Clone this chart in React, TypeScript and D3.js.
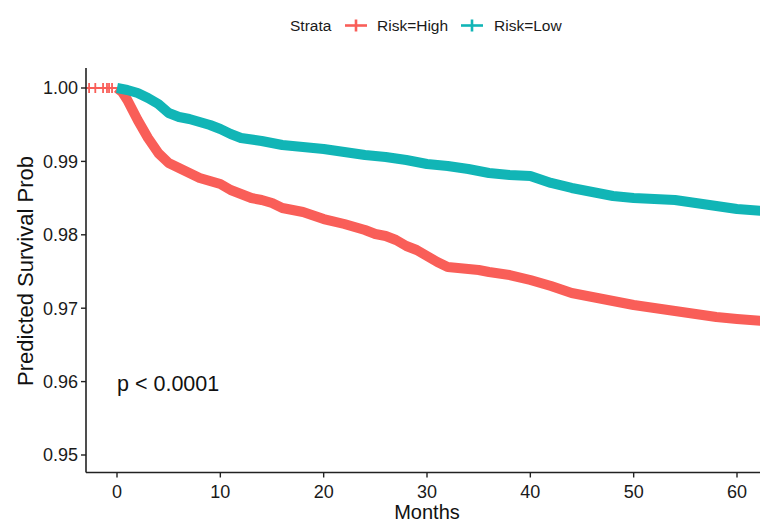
import React from "react";
import * as d3 from "d3";

const highTimes = [0, 0.5, 1, 1.5, 2, 3, 4, 5, 6, 7, 8, 9, 10, 11, 12, 13, 14, 15, 16, 18, 20, 22, 24, 25, 26, 27, 28, 29, 30, 31, 32, 33, 34, 35, 36, 38, 40, 42, 44, 46, 48, 50, 52, 54, 56, 58, 60, 62.5];
const highSurv = [1.0, 0.99946, 0.99837, 0.997, 0.99564, 0.99319, 0.99114, 0.98978, 0.9891, 0.98842, 0.98774, 0.98733, 0.98692, 0.9861, 0.98556, 0.98501, 0.98474, 0.98433, 0.98365, 0.98311, 0.98215, 0.98147, 0.98065, 0.98011, 0.97984, 0.97929, 0.97847, 0.97793, 0.97711, 0.97629, 0.97561, 0.97548, 0.97534, 0.9752, 0.97493, 0.97452, 0.97384, 0.97302, 0.97207, 0.97153, 0.97098, 0.97044, 0.97003, 0.96962, 0.96921, 0.9688, 0.96853, 0.96826];

const lowTimes = [0, 1, 2, 3, 4, 5, 6, 7, 8, 9, 10, 11, 12, 14, 16, 18, 20, 22, 24, 26, 28, 30, 32, 34, 36, 38, 40, 42, 44, 46, 48, 50, 52, 54, 56, 58, 60, 62.5];
const lowSurv = [1.0, 0.99973, 0.99932, 0.99864, 0.99782, 0.99659, 0.99605, 0.99578, 0.99537, 0.99496, 0.99441, 0.99373, 0.99319, 0.99278, 0.99223, 0.99196, 0.99169, 0.99128, 0.99087, 0.9906, 0.99019, 0.98965, 0.98937, 0.98896, 0.98842, 0.98815, 0.98801, 0.98706, 0.98638, 0.98583, 0.98529, 0.98501, 0.98488, 0.98474, 0.98433, 0.98392, 0.98351, 0.98324];

const highEarlyCensor = [-2.7, -2.1, -1.35, -0.97, -0.77, -0.48];

const xTicks = [0, 10, 20, 30, 40, 50, 60];
const yTicks = [0.95, 0.96, 0.97, 0.98, 0.99, 1.0];

const RED = "#F95E58";
const TEAL = "#11B5B6";
const FONT = "'Liberation Sans', Arial, Helvetica, sans-serif";

export default function App() {
  const W = 760, H = 524;
  const x = d3.scaleLinear().domain([0, 60]).range([117, 737]);
  const y = d3.scaleLinear().domain([0.95, 1.0]).range([455, 88]);
  const axisLeft = x(-3);
  const axisBottom = 472.5;
  const axisTop = 68;

  const thin = d3
    .line<[number, number]>()
    .x((d) => x(d[0]))
    .y((d) => y(d[1]))
    .curve(d3.curveStepAfter);
  const band = d3
    .line<[number, number]>()
    .x((d) => x(d[0]))
    .y((d) => y(d[1]))
    .curve(d3.curveLinear);

  const highData: [number, number][] = highTimes.map((t, i) => [t, highSurv[i]] as [number, number]);
  const lowData: [number, number][] = lowTimes.map((t, i) => [t, lowSurv[i]] as [number, number]);

  const plus = (cx: number, cy: number, color: string, key: string, sx = 4.5, sy = 4.5, sw = 1.8) => (
    <g key={key} stroke={color} strokeWidth={sw}>
      <line x1={cx - sx} x2={cx + sx} y1={cy} y2={cy} />
      <line x1={cx} x2={cx} y1={cy - sy} y2={cy + sy} />
    </g>
  );

  return (
    <svg width={W} height={H} style={{ position: "absolute", left: 0, top: 0, background: "#fff" }} fontFamily={FONT}>
      <defs>
        <clipPath id="plotclip">
          <rect x={axisLeft} y={axisTop - 10} width={W - axisLeft} height={axisBottom - axisTop + 10} />
        </clipPath>
      </defs>
      {/* legend */}
      <g fontSize={15.5} fill="#1a1a1a">
        <text x={290} y={31}>Strata</text>
        {plus(356, 25.5, RED, "lr", 11, 6, 2.6)}
        <text x={377} y={31}>Risk=High</text>
        {plus(472, 25.5, TEAL, "lt", 11, 6, 2.6)}
        <text x={494} y={31}>Risk=Low</text>
      </g>

      <g clipPath="url(#plotclip)">
        <path d={thin([[-3, 1.0], [0, 1.0]]) || ""} fill="none" stroke={RED} strokeWidth={2} />
        {highEarlyCensor.map((t, i) => plus(x(t), y(1.0), RED, "hc" + i, 4.5, 5))}
        <path d={band(highData) || ""} fill="none" stroke={RED} strokeWidth={10} strokeLinejoin="round" />
        <path d={band(lowData) || ""} fill="none" stroke={TEAL} strokeWidth={10} strokeLinejoin="round" />
      </g>

      {/* axes */}
      <line x1={axisLeft} x2={axisLeft} y1={axisTop} y2={axisBottom} stroke="#222" strokeWidth={1.6} />
      <line x1={axisLeft} x2={W} y1={axisBottom} y2={axisBottom} stroke="#222" strokeWidth={1.6} />
      {yTicks.map((t) => (
        <g key={"y" + t}>
          <line x1={axisLeft - 5} x2={axisLeft} y1={y(t)} y2={y(t)} stroke="#222" strokeWidth={1.4} />
          <text x={axisLeft - 8} y={y(t)} dy="0.36em" textAnchor="end" fontSize={18} fill="#1a1a1a">
            {t.toFixed(2)}
          </text>
        </g>
      ))}
      {xTicks.map((t) => (
        <g key={"x" + t}>
          <line x1={x(t)} x2={x(t)} y1={axisBottom} y2={axisBottom + 5} stroke="#222" strokeWidth={1.4} />
          <text x={x(t)} y={axisBottom + 25} textAnchor="middle" fontSize={18} fill="#1a1a1a">
            {t}
          </text>
        </g>
      ))}
      <text x={427} y={519} textAnchor="middle" fontSize={20} fill="#111">Months</text>
      <text
        transform={`translate(33, 271) rotate(-90)`}
        textAnchor="middle"
        fontSize={22}
        fill="#111"
      >
        Predicted Survival Prob
      </text>
      <text x={117} y={391} fontSize={21.5} fill="#111">p &lt; 0.0001</text>
    </svg>
  );
}
